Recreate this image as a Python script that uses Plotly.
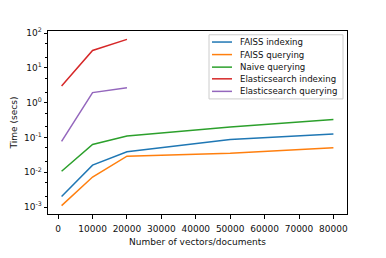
import plotly.graph_objects as go

x_faiss = [1000, 10000, 20000, 50000, 80000]
faiss_indexing = [0.002, 0.016, 0.039, 0.087, 0.126]
faiss_querying = [0.0011, 0.0073, 0.029, 0.035, 0.051]
naive_querying = [0.0107, 0.063, 0.11, 0.2, 0.33]
x_es = [1000, 10000, 20000]
es_indexing = [3.0, 31.6, 66]
es_querying = [0.077, 1.95, 2.7]

names = ["FAISS indexing", "FAISS querying", "Naive querying",
         "Elasticsearch indexing", "Elasticsearch querying"]
colors = ["#1f77b4", "#ff7f0e", "#2ca02c", "#d62728", "#9467bd"]
xs_list = [x_faiss, x_faiss, x_faiss, x_es, x_es]
ys_list = [faiss_indexing, faiss_querying, naive_querying, es_indexing, es_querying]

W, H = 386, 258
L, R, T, B = 48, 39, 31, 33
pw, ph = W - L - R, H - T - B


def px(x):
    return (x - L) / pw


def py(y):
    return (H - B - y) / ph


fig = go.Figure()
for name, xs, ys, c in zip(names, xs_list, ys_list, colors):
    fig.add_trace(go.Scatter(x=xs, y=ys, name=name, mode="lines",
                             line=dict(color=c, width=1.5), showlegend=False))

font = dict(family="DejaVu Sans", size=9, color="#111")
legend_font = dict(family="DejaVu Sans", size=8.6, color="#111")

# manual legend (matplotlib-like compact spacing)
shapes = [dict(type="rect", xref="paper", yref="paper",
               x0=px(209), x1=px(343), y0=py(103), y1=py(35),
               line=dict(color="#cccccc", width=1), fillcolor="rgba(255,255,255,0.8)",
               layer="above")]
annotations = []
row_y = [42.7, 56, 69.3, 81.7, 95]
for name, c, yy in zip(names, colors, row_y):
    shapes.append(dict(type="line", xref="paper", yref="paper",
                       x0=px(212), x1=px(232), y0=py(yy), y1=py(yy),
                       line=dict(color=c, width=1.5), layer="above"))
    annotations.append(dict(text=name, xref="paper", yref="paper",
                            x=px(237.5), y=py(yy), xanchor="left", yanchor="middle",
                            showarrow=False, font=legend_font))

ytickvals = [1e-3, 1e-2, 1e-1, 1, 10, 100]
yticktext = ["10<sup>-3</sup>", "10<sup>-2</sup>", "10<sup>-1</sup>",
             "10<sup>0</sup>", "10<sup>1</sup>", "10<sup>2</sup>"]
xtickvals = [0, 10000, 20000, 30000, 40000, 50000, 60000, 70000, 80000]
xticktext = [str(v) for v in xtickvals]

fig.update_layout(
    width=W, height=H,
    margin=dict(l=L, r=R, t=T, b=B),
    paper_bgcolor="white", plot_bgcolor="white",
    font=font,
    showlegend=False,
    shapes=shapes,
    annotations=annotations,
    xaxis=dict(range=[-2950, 83950], tickvals=xtickvals, ticktext=xticktext,
               showgrid=False, zeroline=False, showline=True, linecolor="black", linewidth=1,
               mirror=True, ticks="outside", ticklen=3.5, tickcolor="black",
               tickfont=font, ticklabelstandoff=3,
               title=dict(text="Number of vectors/documents", standoff=5, font=font)),
    yaxis=dict(type="log", range=[-3.2, 2.06], tickvals=ytickvals, ticktext=yticktext,
               showgrid=False, zeroline=False, showline=True, linecolor="black", linewidth=1,
               mirror=True, ticks="outside", ticklen=3.5, tickcolor="black",
               tickfont=font,
               minor=dict(ticks="outside", ticklen=2, tickcolor="black", showgrid=False),
               title=dict(text="Time (secs)", standoff=4, font=font)),
)

fig.write_html("out.html", config={"displayModeBar": False},
               post_script="document.body.style.margin='0';")
